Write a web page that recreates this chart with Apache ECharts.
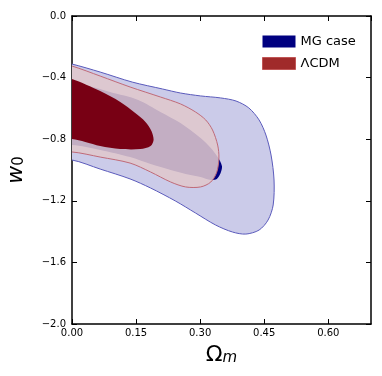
<!DOCTYPE html>
<html>
<head>
<meta charset="utf-8">
<script src="https://cdn.jsdelivr.net/npm/echarts@6/dist/echarts.min.js"></script>
<style>
  html, body { margin: 0; padding: 0; background: #fff; }
  #chart { width: 382px; height: 376px; }
</style>
</head>
<body>
<div id="chart"></div>
<script>
// contour outlines, [Omega_m, w0]
var mg2sigma = [
  [0, -0.312], [0.066, -0.364], [0.141, -0.429], [0.212, -0.474], [0.254, -0.500],
  [0.301, -0.519], [0.348, -0.532], [0.384, -0.552], [0.414, -0.597], [0.438, -0.675],
  [0.454, -0.773], [0.466, -0.903], [0.473, -1.065], [0.471, -1.227], [0.459, -1.325],
  [0.438, -1.390], [0.407, -1.416], [0.376, -1.403], [0.336, -1.357], [0.289, -1.279],
  [0.242, -1.201], [0.184, -1.117], [0.136, -1.058], [0.066, -0.994], [0, -0.935]
];
var mg1sigma = [
  [0, -0.442], [0.038, -0.455], [0.089, -0.494], [0.155, -0.545], [0.207, -0.623],
  [0.254, -0.695], [0.301, -0.792], [0.325, -0.857], [0.341, -0.916], [0.351, -0.974],
  [0.348, -1.019], [0.339, -1.058], [0.325, -1.065], [0.301, -1.045], [0.266, -1.026],
  [0.231, -1.000], [0.184, -0.961], [0.136, -0.916], [0.066, -0.870], [0, -0.838]
];
var lcdm2sigma = [
  [0, -0.325], [0.066, -0.390], [0.136, -0.461], [0.207, -0.526], [0.254, -0.571],
  [0.289, -0.623], [0.313, -0.675], [0.329, -0.740], [0.341, -0.838], [0.344, -0.922],
  [0.339, -1.013], [0.325, -1.078], [0.301, -1.110], [0.266, -1.110], [0.231, -1.078],
  [0.184, -1.013], [0.136, -0.955], [0.066, -0.916], [0, -0.883]
];
var lcdm1sigma = [
  [0, -0.409], [0.066, -0.487], [0.113, -0.558], [0.148, -0.630], [0.172, -0.688],
  [0.186, -0.747], [0.191, -0.805], [0.184, -0.844], [0.160, -0.864], [0.113, -0.864],
  [0.066, -0.844], [0.031, -0.818], [0, -0.799]
];

var font = 'DejaVu Sans';
var chart = echarts.init(document.getElementById('chart'));

// closed filled outline, drawn through the axes' own coord mapping
function contour(name, pts, fill, stroke, z) {
  return {
    name: name,
    type: 'custom',
    z: z,
    silent: true,
    data: pts,
    encode: { x: 0, y: 1 },
    renderItem: function (params, api) {
      if (params.dataIndex !== 0) return;
      var cs = params.coordSys;
      var xy = pts.map(function (p) { return api.coord(p); });
      // close the shape behind the y axis so the smoothing doesn't round the corners
      var first = xy[0], last = xy[xy.length - 1];
      xy.push([last[0] - 12, last[1] + 2], [first[0] - 12, first[1] - 2]);
      return {
        type: 'polygon',
        shape: { points: xy, smooth: 0.3 },
        clipPath: { type: 'rect', shape: { x: cs.x, y: cs.y, width: cs.width, height: cs.height } },
        style: { fill: fill, stroke: stroke || null, lineWidth: stroke ? 1 : 0 }
      };
    }
  };
}

var minus = function (v) { return v < 0 ? '\u2212' + Math.abs(v).toFixed(1) : v.toFixed(1); };
var axisLine = { show: true, onZero: false, lineStyle: { color: '#000', width: 1.5 } };
var tick = { show: true, inside: true, length: 5, lineStyle: { color: '#000', width: 1 } };

var option = {
  animation: false,
  textStyle: { fontFamily: font },
  grid: { left: 72, right: 11, top: 16, bottom: 52, containLabel: false, outerBoundsMode: 'none' },
  legend: {
    orient: 'vertical',
    left: 257,
    top: 30,
    itemWidth: 33,
    itemHeight: 12,
    itemGap: 9,
    icon: 'rect',
    textStyle: { fontFamily: font, fontSize: 13, color: '#000' },
    data: [
      { name: 'MG case', itemStyle: { color: '#000080' } },
      { name: '\u039bCDM', itemStyle: { color: '#a02a2a', borderColor: '#c05555', borderWidth: 1 } }
    ]
  },
  xAxis: [{
    type: 'value', min: 0, max: 0.70, interval: 0.15,
    name: '{o|\u03a9}{s|m}', nameLocation: 'middle', nameGap: 10,
    nameTextStyle: {
      rich: {
        o: { fontFamily: font, fontSize: 22, color: '#000', lineHeight: 26, verticalAlign: 'bottom' },
        s: { fontFamily: font, fontSize: 15, fontStyle: 'italic', color: '#000', lineHeight: 16, verticalAlign: 'bottom', padding: [8, 0, 0, 0] }
      }
    },
    axisLine: axisLine, axisTick: tick, splitLine: { show: false },
    axisLabel: { color: '#000', fontSize: 10, margin: 4, showMaxLabel: false, formatter: function (v) { return v.toFixed(2); } }
  }, {
    type: 'value', min: 0, max: 0.70, interval: 0.15, position: 'top',
    axisLine: axisLine, axisTick: tick, splitLine: { show: false }, axisLabel: { show: false }
  }],
  yAxis: [{
    type: 'value', min: -2, max: 0, interval: 0.4,
    name: '{w|w}{s|0}', nameLocation: 'middle', nameGap: 45, nameRotate: 90,
    nameTextStyle: {
      rich: {
        w: { fontFamily: font, fontSize: 22, fontStyle: 'italic', color: '#000', lineHeight: 26, verticalAlign: 'bottom' },
        s: { fontFamily: font, fontSize: 15, color: '#000', lineHeight: 16, verticalAlign: 'bottom', padding: [8, 0, 0, 0] }
      }
    },
    axisLine: axisLine, axisTick: tick, splitLine: { show: false },
    axisLabel: { color: '#000', fontSize: 10, margin: 6, formatter: minus }
  }, {
    type: 'value', min: -2, max: 0, interval: 0.4, position: 'right',
    axisLine: axisLine, axisTick: tick, splitLine: { show: false }, axisLabel: { show: false }
  }],
  series: [
    contour('MG case', mg2sigma, '#cbcbe9', '#5a5abb', 1),
    contour('MG case', mg1sigma, '#000080', null, 2),
    contour('\u039bCDM', lcdm2sigma, 'rgba(224,200,205,0.87)', '#c06a78', 3),
    contour('\u039bCDM', lcdm1sigma, '#780014', null, 4)
  ]
};
chart.setOption(option);
</script>
</body>
</html>
